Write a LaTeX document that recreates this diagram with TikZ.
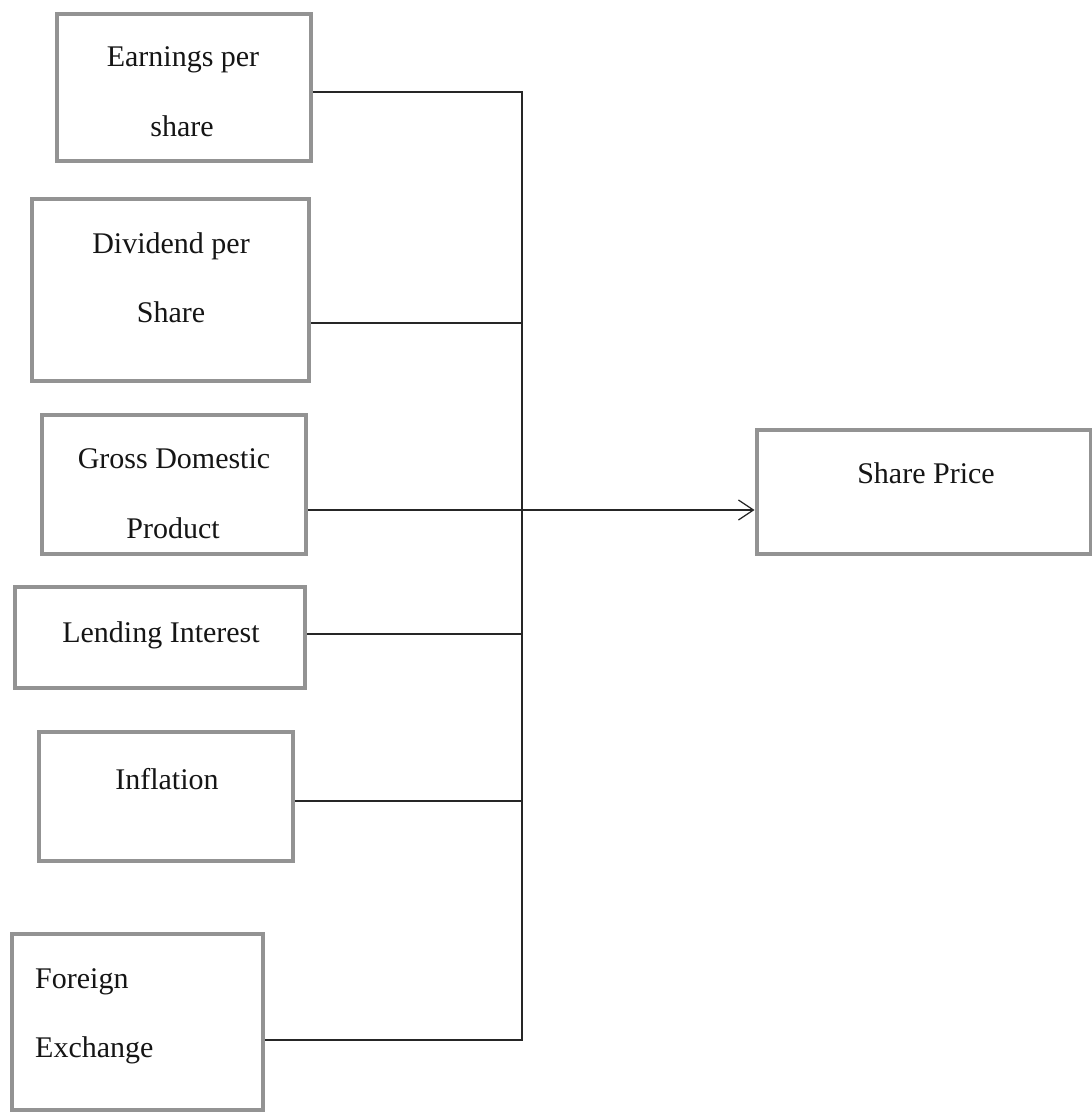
\documentclass[tikz,border=0pt]{standalone}
\usepackage{fontspec}
\setmainfont{Liberation Serif}
\usetikzlibrary{arrows.meta}
\definecolor{boxgray}{HTML}{939393}
\definecolor{linegray}{HTML}{262626}
\definecolor{txtcol}{HTML}{151515}
\begin{document}
\begin{tikzpicture}[x=1pt,y=-1pt,
  box/.style={draw=boxgray, line width=4.8pt, rectangle, inner sep=0pt},
  txt/.style={font=\fontsize{30}{36}\selectfont, text=txtcol, anchor=base, inner sep=0pt},
  txtl/.style={txt, anchor=base west},
  link/.style={draw=linegray, line width=1.3pt}]
\useasboundingbox (0,0) rectangle (1091,1115);
% boxes
\node[box, minimum width=254pt, minimum height=147pt] (b1) at (184,87.5) {};
\node[box, minimum width=277pt, minimum height=182pt] (b2) at (170.5,290) {};
\node[box, minimum width=264pt, minimum height=139pt] (b3) at (174,484.5) {};
\node[box, minimum width=290pt, minimum height=101pt] (b4) at (160,637.5) {};
\node[box, minimum width=254pt, minimum height=129pt] (b5) at (166,796.5) {};
\node[box, minimum width=251pt, minimum height=176pt] (b6) at (137.5,1022) {};
\node[box, minimum width=334pt, minimum height=124pt] (sp) at (924,492) {};
% texts
\node[txt] (t1a) at (183,67) {Earnings per};
\node[txt] (t1b) at (182,137) {share};
\node[txt] (t2a) at (171,253) {Dividend per};
\node[txt] (t2b) at (171,322) {Share};
\node[txt] (t3a) at (174,468) {Gross Domestic};
\node[txt] (t3b) at (173,538) {Product};
\node[txt] (t4) at (161,642) {Lending Interest};
\node[txt] (t5) at (167,789) {Inflation};
\node[txtl] (t6a) at (35,988) {Foreign};
\node[txtl] (t6b) at (35,1057) {Exchange};
\node[txt] (tsp) at (926,483) {Share Price};
% junction points on the vertical bus
\coordinate (j1) at (522,92);
\coordinate (j2) at (522,323);
\coordinate (j3) at (522,510);
\coordinate (j4) at (522,634);
\coordinate (j5) at (522,801);
\coordinate (j6) at (522,1040);
% connectors
\draw[link] (b1.east |- j1) -- (j1) -- (j6) -- (b6.east |- j6);
\draw[link] (b2.east |- j2) -- (j2);
\draw[link] (b4.east |- j4) -- (j4);
\draw[link] (b5.east |- j5) -- (j5);
\draw[link, -{Straight Barb[length=15pt,width=20pt,line width=1.3pt]}] (b3.east |- j3) -- (sp.west |- j3);
\end{tikzpicture}
\end{document}
